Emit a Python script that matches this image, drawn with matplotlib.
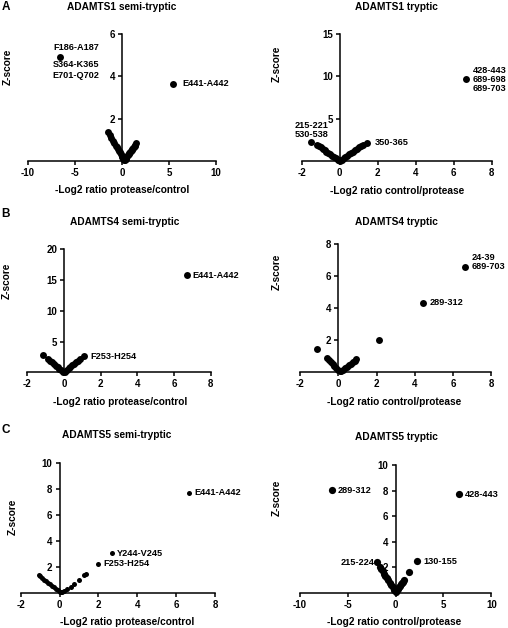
import numpy as np
import matplotlib
matplotlib.use("Agg")
import matplotlib.pyplot as plt

plt.rcParams['font.family'] = ['Liberation Sans', 'DejaVu Sans']
plt.rcParams['font.weight'] = 'bold'
plt.rcParams['axes.unicode_minus'] = False

W, H = 508, 628

# ---- data ----
# ADAMTS1 semi-tryptic
a1s_x = [-6.6, 5.45,
         -1.5, -1.3, -1.15, -0.95, -0.8, -0.65, -0.55, -0.45, -0.35, -0.25, -0.15, -0.05, 0.05, 0.15, 0.22,
         0.3, 0.38, 0.46, 0.54, 0.62, 0.7, 0.78, 0.86, 0.94, 1.02, 1.1, 1.18, 1.26, 1.34, 1.42, 1.52]
a1s_y = [4.92, 3.65,
         1.38, 1.22, 1.07, 0.93, 0.83, 0.71, 0.64, 0.56, 0.48, 0.41, 0.33, 0.25, 0.18, 0.1, 0.05,
         0.06, 0.11, 0.16, 0.22, 0.27, 0.32, 0.37, 0.42, 0.47, 0.52, 0.57, 0.62, 0.67, 0.72, 0.77, 0.84]

# ADAMTS1 tryptic
a1t_x = [6.63, -1.5, 1.45,
         -1.2, -1.1, -1.0, -0.9, -0.8, -0.7, -0.6, -0.5, -0.4, -0.3, -0.2, -0.1, -0.05,
         0.0, 0.1, 0.2, 0.3, 0.4, 0.5, 0.6, 0.7, 0.8, 0.9, 1.0, 1.1, 1.2]
a1t_y = [9.67, 2.2, 2.17,
         1.9, 1.75, 1.6, 1.45, 1.3, 1.12, 0.96, 0.8, 0.64, 0.48, 0.32, 0.16, 0.08,
         0.02, 0.16, 0.32, 0.48, 0.64, 0.8, 0.96, 1.12, 1.28, 1.44, 1.6, 1.75, 1.9]

# ADAMTS4 semi-tryptic
a4s_x = [6.69, 1.1, -1.13,
         -0.85, -0.75, -0.65, -0.55, -0.45, -0.35, -0.25, -0.15, -0.05,
         0.05, 0.15, 0.25, 0.35, 0.45, 0.55, 0.65, 0.75, 0.85]
a4s_y = [15.8, 2.6, 2.8,
         2.1, 1.85, 1.6, 1.35, 1.1, 0.85, 0.6, 0.35, 0.12,
         0.12, 0.37, 0.62, 0.87, 1.12, 1.37, 1.6, 1.85, 2.1]

# ADAMTS4 tryptic
a4t_x = [6.62, 4.44, 2.14, -1.11,
         -0.6, -0.5, -0.4, -0.3, -0.2, -0.1, 0.0, 0.08,
         0.15, 0.25, 0.35, 0.45, 0.55, 0.65, 0.75, 0.85, 0.95]
a4t_y = [6.57, 4.33, 2.01, 1.43,
         0.86, 0.74, 0.62, 0.5, 0.38, 0.26, 0.14, 0.05,
         0.08, 0.16, 0.25, 0.34, 0.43, 0.52, 0.61, 0.7, 0.8]

# ADAMTS5 semi-tryptic
a5s_x = [6.64, 2.68, 1.96,
         -1.08, -1.0, -0.9, -0.8, -0.7, -0.6, -0.5, -0.4, -0.3, -0.2, -0.1, 0.0, 0.07,
         0.15, 0.25, 0.38, 0.58, 0.72, 0.98, 1.24, 1.37]
a5s_y = [7.73, 3.04, 2.22,
         1.36, 1.26, 1.14, 1.02, 0.9, 0.78, 0.66, 0.54, 0.42, 0.3, 0.18, 0.07, 0.02,
         0.08, 0.15, 0.28, 0.46, 0.64, 0.98, 1.34, 1.45]

# ADAMTS5 tryptic
a5t_x = [-6.68, 6.64, -1.88, 2.2, 1.4,
         -1.65, -1.5, -1.35, -1.2, -1.05, -0.9, -0.75, -0.6, -0.45, -0.3, -0.15, 0.0,
         0.1, 0.2, 0.3, 0.4, 0.5, 0.6, 0.7, 0.8, 0.9]
a5t_y = [8.04, 7.7, 2.4, 2.45, 1.6,
         2.05, 1.85, 1.68, 1.5, 1.32, 1.14, 0.96, 0.78, 0.6, 0.42, 0.24, 0.08,
         0.1, 0.21, 0.32, 0.43, 0.54, 0.65, 0.76, 0.87, 0.99]


def fx(px):
    return px / W


def fy(py):
    return 1 - py / H


def panel(x0, x1, ytop, ybot, xlim, ylim, xticks, yticks):
    ax = fig.add_axes([fx(x0), fy(ybot), (x1 - x0) / W, (ybot - ytop) / H])
    ax.set_xlim(*xlim)
    ax.set_ylim(*ylim)
    ax.spines['top'].set_visible(False)
    ax.spines['right'].set_visible(False)
    ax.spines['left'].set_position(('data', 0))
    for s in ('left', 'bottom'):
        ax.spines[s].set_linewidth(1.1)
    ax.set_xticks(xticks)
    ax.set_yticks(yticks)
    ax.tick_params(length=3, width=1.1, labelsize=7, pad=2)
    for lab in ax.get_xticklabels() + ax.get_yticklabels():
        lab.set_fontweight('bold')
    ax.patch.set_alpha(0)
    return ax


def dots(ax, x, y, ms=5.0):
    ax.plot(x, y, 'o', color='black', ms=ms, mew=0, clip_on=False, zorder=3)


def note(ax, txt, xy, off, ha='left'):
    ax.annotate(txt, xy, xytext=off, textcoords='offset pixels', ha=ha, va='center',
                fontsize=6.6, fontweight='bold', annotation_clip=False)


def ftext(x, y, s, size=7.3, rot=0):
    fig.text(fx(x), fy(y), s, ha='center', va='center', fontsize=size,
             fontweight='bold', rotation=rot)


fig = plt.figure(figsize=(W / 100, H / 100), dpi=100)

# A left
ax = panel(28, 216, 34, 161, (-10, 10), (0, 6), [-10, -5, 0, 5, 10], [2, 4, 6])
dots(ax, a1s_x, a1s_y)
note(ax, 'F186-A187', (a1s_x[0], a1s_y[0]), (39, 9), 'right')
note(ax, 'S364-K365', (a1s_x[0], a1s_y[0]), (39, -8), 'right')
note(ax, 'E701-Q702', (a1s_x[0], a1s_y[0]), (39, -19), 'right')
note(ax, 'E441-A442', (a1s_x[1], a1s_y[1]), (9, 0))
ftext(122, 7, 'ADAMTS1 semi-tryptic')
ftext(122, 190, '-Log2 ratio protease/control')
ftext(8, 67, 'Z-score', rot=90)

# A right
ax = panel(301.7, 491.7, 34, 161, (-2, 8), (0, 15), [-2, 0, 2, 4, 6, 8], [5, 10, 15])
dots(ax, a1t_x, a1t_y)
note(ax, '428-443', (a1t_x[0], a1t_y[0]), (7, 9))
note(ax, '689-698', (a1t_x[0], a1t_y[0]), (7, 0))
note(ax, '689-703', (a1t_x[0], a1t_y[0]), (7, -9))
note(ax, '215-221', (a1t_x[1], a1t_y[1]), (0, 17), 'center')
note(ax, '530-538', (a1t_x[1], a1t_y[1]), (0, 8), 'center')
note(ax, '350-365', (a1t_x[2], a1t_y[2]), (7, 0))
ftext(396, 7, 'ADAMTS1 tryptic')
ftext(397, 190.5, '-Log2 ratio control/protease')
ftext(277, 64, 'Z-score', rot=90)

# B left
ax = panel(27.3, 210.7, 249.3, 372.3, (-2, 8), (0, 20), [-2, 0, 2, 4, 6, 8], [5, 10, 15, 20])
dots(ax, a4s_x, a4s_y)
note(ax, 'E441-A442', (a4s_x[0], a4s_y[0]), (6, 0))
note(ax, 'F253-H254', (a4s_x[1], a4s_y[1]), (6, 0))
ftext(125, 222, 'ADAMTS4 semi-tryptic')
ftext(120, 401.7, '-Log2 ratio protease/control')
ftext(7, 281, 'Z-score', rot=90)

# B right
ax = panel(300, 491.3, 243.7, 372.3, (-2, 8), (0, 8), [-2, 0, 2, 4, 6, 8], [2, 4, 6, 8])
dots(ax, a4t_x, a4t_y)
note(ax, '24-39', (a4t_x[0], a4t_y[0]), (7, 9))
note(ax, '689-703', (a4t_x[0], a4t_y[0]), (7, 0))
note(ax, '289-312', (a4t_x[1], a4t_y[1]), (6, 0))
ftext(396, 222, 'ADAMTS4 tryptic')
ftext(394, 401.7, '-Log2 ratio control/protease')
ftext(277, 272, 'Z-score', rot=90)

# C left
ax = panel(20.7, 215, 463.3, 592.7, (-2, 8), (0, 10), [-2, 0, 2, 4, 6, 8], [2, 4, 6, 8, 10])
dots(ax, a5s_x, a5s_y, ms=3.6)
note(ax, 'E441-A442', (a5s_x[0], a5s_y[0]), (6, 0))
note(ax, 'Y244-V245', (a5s_x[1], a5s_y[1]), (5, 0))
note(ax, 'F253-H254', (a5s_x[2], a5s_y[2]), (6, 0))
ftext(117, 435, 'ADAMTS5 semi-tryptic')
ftext(127, 621.7, '-Log2 ratio protease/control')
ftext(13, 517, 'Z-score', rot=90)

# C right
ax = panel(299.7, 491.3, 465, 592.7, (-10, 10), (0, 10), [-10, -5, 0, 5, 10], [2, 4, 6, 8, 10])
dots(ax, a5t_x, a5t_y, ms=5.2)
note(ax, '289-312', (a5t_x[0], a5t_y[0]), (6, 0))
note(ax, '428-443', (a5t_x[1], a5t_y[1]), (6, 0))
note(ax, '215-224', (a5t_x[2], a5t_y[2]), (-3, 0), 'right')
note(ax, '130-155', (a5t_x[3], a5t_y[3]), (7, 0))
ftext(396, 437, 'ADAMTS5 tryptic')
ftext(394, 621.7, '-Log2 ratio control/protease')
ftext(277, 498, 'Z-score', rot=90)

# panel letters
for lab, yy in (('A', 7), ('B', 214), ('C', 430)):
    ftext(6, yy, lab, size=8.5)

fig.savefig('out.png', dpi=100)
